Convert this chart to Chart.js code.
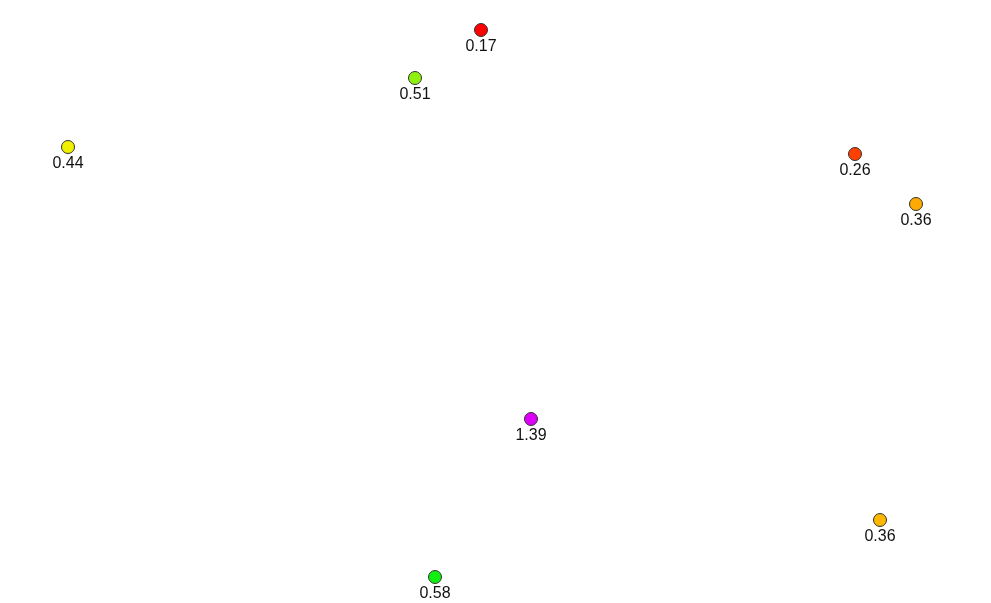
<!DOCTYPE html>
<html>
<head>
<meta charset="utf-8">
<script src="https://cdn.jsdelivr.net/npm/chart.js@4"></script>
<style>
html,body{margin:0;padding:0;background:#fff;}
#wrap{width:991px;height:603px;position:relative;}
</style>
</head>
<body>
<div id="wrap"><canvas id="c" width="991" height="603"></canvas></div>
<script>
// Point data (layout units) and their values
const xs = [481, 415, 68, 855, 916, 531, 880, 435];
const ys = [30, 78, 147, 154, 204, 419, 520, 577];
const values = [0.17, 0.51, 0.44, 0.26, 0.36, 1.39, 0.36, 0.58];
const labels = ["0.17", "0.51", "0.44", "0.26", "0.36", "1.39", "0.36", "0.58"];
const colors = ["#ff0000", "#90f010", "#f0f000", "#ff4000", "#ffaa00", "#dd00f8", "#ffb800", "#11ee11"];

const pts = xs.map((x, i) => ({x: x, y: ys[i]}));

const labelPlugin = {
  id: 'pointLabels',
  afterDatasetsDraw(chart) {
    const ctx = chart.ctx;
    const meta = chart.getDatasetMeta(0);
    ctx.save();
    ctx.font = '16px "Liberation Sans", Arial, sans-serif';
    ctx.fillStyle = '#111';
    ctx.textAlign = 'center';
    ctx.textBaseline = 'alphabetic';
    meta.data.forEach((el, i) => {
      ctx.fillText(labels[i], el.x, el.y + 21);
    });
    ctx.restore();
  }
};

new Chart(document.getElementById('c'), {
  type: 'scatter',
  data: {
    datasets: [{
      data: pts,
      backgroundColor: colors,
      borderColor: '#333',
      borderWidth: 1,
      pointRadius: 6.5,
      pointHoverRadius: 6.5,
      clip: false
    }]
  },
  options: {
    responsive: false,
    animation: false,
    events: [],
    layout: {padding: 0, autoPadding: false},
    plugins: {legend: {display: false}, tooltip: {enabled: false}},
    scales: {
      x: {type: 'linear', display: false, min: 0, max: 991},
      y: {type: 'linear', display: false, min: 0, max: 603, reverse: true}
    }
  },
  plugins: [labelPlugin]
});
</script>
</body>
</html>
